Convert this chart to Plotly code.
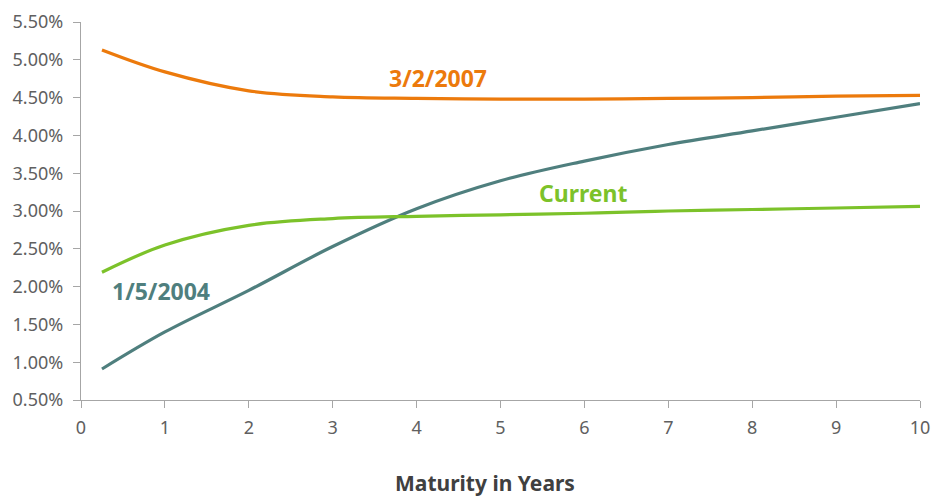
import plotly.graph_objects as go

maturity = [0.25, 1, 2, 3, 4, 5, 6, 7, 8, 9, 10]
yield_2007 = [5.13, 4.84, 4.59, 4.51, 4.49, 4.48, 4.48, 4.49, 4.50, 4.52, 4.53]
yield_2004 = [0.91, 1.40, 1.95, 2.53, 3.03, 3.40, 3.66, 3.88, 4.06, 4.24, 4.42]
yield_current = [2.19, 2.55, 2.81, 2.90, 2.93, 2.95, 2.97, 3.00, 3.02, 3.04, 3.06]
series_names = ["3/2/2007", "1/5/2004", "Current"]
colors = ["#EC7A0C", "#4F7F7E", "#7CC22A"]
label_pos = [(4.26, 4.76), (0.95, 1.94), (5.98, 3.24)]
x_title = "Maturity in Years"

fig = go.Figure()
for name, ys, c, (lx, ly) in zip(series_names, [yield_2007, yield_2004, yield_current], colors, label_pos):
    fig.add_trace(go.Scatter(x=maturity, y=ys, mode="lines", name=name,
                             line=dict(color=c, width=3.2, shape="spline", smoothing=1.0)))
    fig.add_annotation(x=lx, y=ly, text=f"<b>{name}</b>", showarrow=False,
                       font=dict(color=c, size=23, family="Noto Sans"))

fig.add_annotation(x=0.4815, y=-0.258, xref="paper", yref="paper", showarrow=False,
                   text=f"<b>{x_title}</b>", xanchor="center", yanchor="bottom",
                   borderpad=0,
                   font=dict(size=21, color="#404040", family="Noto Sans"))

axis_common = dict(showgrid=False, zeroline=False, showline=True, linecolor="#A6A6A6",
                   linewidth=1.3, ticks="outside", tickcolor="#A6A6A6", ticklen=7,
                   automargin=False,
                   tickfont=dict(size=18, color="#606060", family="Noto Sans"))
fig.update_xaxes(range=[0, 10], dtick=1, tick0=0, ticklabelstandoff=4, **axis_common)
fig.update_yaxes(range=[0.5, 5.5], dtick=0.5, tick0=0.5, tickformat=".2f", ticksuffix="%",
                 ticklabelstandoff=6, **axis_common)
fig.update_layout(width=934, height=500, showlegend=False,
                  margin=dict(l=81, r=14, t=22, b=100),
                  plot_bgcolor="white", paper_bgcolor="white")
fig.write_html("out.html")
